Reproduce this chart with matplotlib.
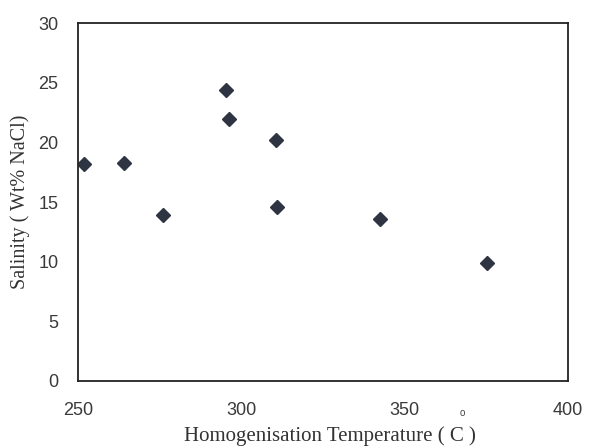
import matplotlib
matplotlib.use("Agg")
import matplotlib.pyplot as plt

# homogenisation temperature (C) vs salinity (wt% NaCl)
temperature = [251.8, 264, 276, 295.3, 296.3, 310.5, 311, 342.5, 375.3]
salinity = [18.2, 18.3, 13.9, 24.4, 22.0, 20.2, 14.6, 13.6, 9.9]

xticks = [250, 300, 350, 400]
yticks = [0, 5, 10, 15, 20, 25, 30]

fig = plt.figure(figsize=(5.91, 4.46), dpi=100)
ax = fig.add_axes([0.132, 0.146, 0.829, 0.802])

ax.plot(temperature, salinity, linestyle='none', marker='D', markersize=7.5,
        color='#2e3442', markeredgecolor='#2e3442')

ax.set_xlim(250, 400)
ax.set_ylim(0, 30)
ax.set_xticks(xticks)
ax.set_yticks(yticks)
ax.tick_params(axis='both', length=0, labelsize=13, colors='#3a3a3a')
for lab in ax.get_xticklabels() + ax.get_yticklabels():
    lab.set_family('Liberation Sans')
ax.tick_params(axis='x', pad=15)
ax.tick_params(axis='y', pad=14)
for s in ax.spines.values():
    s.set_linewidth(1.3)
    s.set_color('#222222')

ax.set_xlabel('Homogenisation Temperature ( C )', family='Liberation Serif',
              fontsize=15, color='#333333')
ax.xaxis.set_label_coords(0.514, -0.127)
ax.set_ylabel('Salinity ( Wt% NaCl)', family='Liberation Serif',
              fontsize=14.5, color='#333333', labelpad=6)
# raised degree mark above the C
fig.text(462 / 591, 1 - 413 / 446, 'o', family='Liberation Sans', fontsize=7,
         color='#444444', ha='center', va='center')

plt.savefig('out.png', dpi=100)
